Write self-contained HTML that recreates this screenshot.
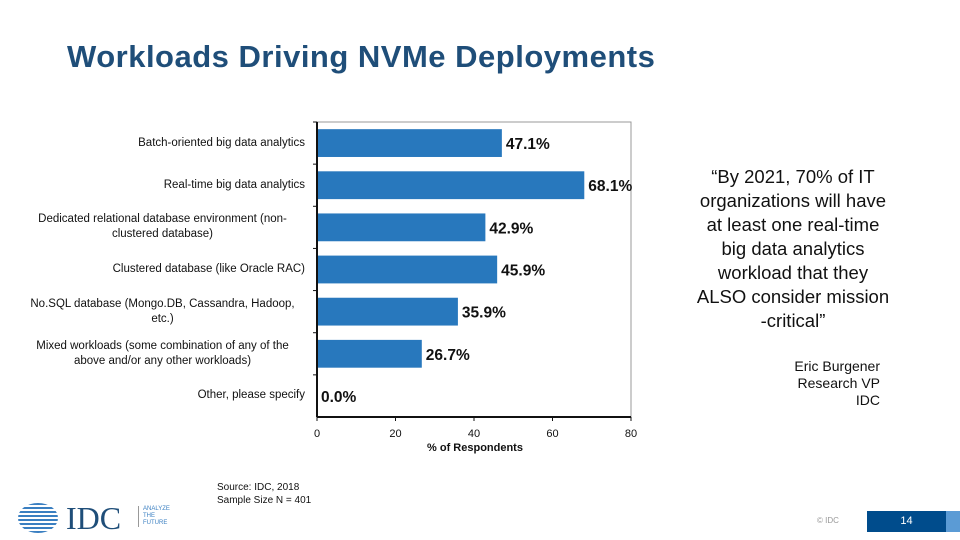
<!DOCTYPE html>
<html><head><meta charset="utf-8"><style>
body{margin:0;width:960px;height:540px;background:#fff;position:relative;overflow:hidden;font-family:"Liberation Sans",sans-serif}
.abs{position:absolute}
.lab{position:absolute;left:20px;width:285px;font-size:11.5px;color:#111;line-height:15px}
</style></head><body>
<div class="abs" style="left:67px;top:39px;font-size:31px;font-weight:bold;color:#1f4e79;letter-spacing:0.5px">Workloads Driving NVMe Deployments</div>
<svg class="abs" style="left:0;top:0" width="960" height="540" id="chart"></svg>
<div class="abs" style="left:660px;top:165px;width:266px;text-align:center;font-size:18.5px;line-height:24px;color:#111;white-space:nowrap">“By 2021, 70% of IT<br>organizations will have<br>at least one real-time<br>big data analytics<br>workload that they<br>ALSO consider mission<br>-critical”</div>
<div class="abs" style="left:740px;top:358px;width:140px;text-align:right;font-size:14px;line-height:17px;color:#111">Eric Burgener<br>Research VP<br>IDC</div>
<div class="abs" style="left:217px;top:481px;font-size:10px;line-height:13px;color:#111">Source: IDC, 2018<br>Sample Size N = 401</div>
<div class="abs" style="left:18px;top:503px;width:40px;height:30px;background:repeating-linear-gradient(#3a7fc1 0 2px,#fff 2px 4px);border-radius:50%"></div>
<div class="abs" style="left:66px;top:500px;font-family:'Liberation Serif',serif;font-size:32px;color:#1f4e79">IDC</div>
<div class="abs" style="left:138px;top:506px;font-size:6px;line-height:7px;color:#3a7fc1;border-left:1px solid #999;padding-left:4px">ANALYZE<br>THE<br>FUTURE</div>
<div class="abs" style="left:817px;top:516px;font-size:8px;color:#999">© IDC</div>
<div class="abs" style="left:867px;top:511px;width:79px;height:21px;background:#004c8c;color:#fff;font-size:11px;line-height:20px;text-align:center">14</div>
<div class="abs" style="left:946px;top:511px;width:14px;height:21px;background:#5b9bd5"></div>
<div id="labels"></div>
<script>
const categories=["Batch-oriented big data analytics","Real-time big data analytics","Dedicated relational database environment (non-clustered database)","Clustered database (like Oracle RAC)","No.SQL database (Mongo.DB, Cassandra, Hadoop, etc.)","Mixed workloads (some combination of any of the above and/or any other workloads)","Other, please specify"];
const values=[47.1,68.1,42.9,45.9,35.9,26.7,0.0];
const ticks=[0,20,40,60,80];
const svg=document.getElementById('chart');
const NS='http://www.w3.org/2000/svg';
const x0=317,x1=631,y0=122,y1=417,xmax=80;
const xs=v=>x0+(v/xmax)*(x1-x0);
const band=(y1-y0)/categories.length;
function mk(t,a){const e=document.createElementNS(NS,t);for(const k in a)e.setAttribute(k,a[k]);svg.appendChild(e);return e;}
let f=mk('polyline',{points:`${x0},${y0} ${x1},${y0} ${x1},${y1}`,fill:'none',stroke:'#999','stroke-width':1});

categories.forEach((c,i)=>{
  const yc=y0+band*(i+0.5),h=band*0.66;
  const r=mk('rect',{x:x0,y:yc-h/2,width:xs(values[i])-x0,height:h,fill:'#2878bd'});
  
  const t=mk('text',{x:xs(values[i])+4,y:yc+6,'font-size':15.5,'font-weight':'bold',fill:'#111','font-family':'Liberation Sans,sans-serif'});
  t.textContent=values[i].toFixed(1)+'%';
  
  const tk=mk('line',{x1:x0-4,x2:x0,y1:y0+band*i,y2:y0+band*i,stroke:'#111'});
  
  const d=document.createElement('div');d.className='lab';
  const multi=c.length>40;
  d.style.top=(yc-(multi?15:7.5))+'px';d.style.textAlign=multi?'center':'right';d.textContent=c;
  
  document.getElementById('labels').appendChild(d);
});
let ax=mk('line',{x1:x0,x2:x0,y1:y0,y2:y1,stroke:'#111','stroke-width':2});

let bx=mk('line',{x1:x0,x2:x1,y1:y1,y2:y1,stroke:'#111','stroke-width':2});

ticks.forEach(v=>{
  const l=mk('line',{x1:xs(v),x2:xs(v),y1:y1,y2:y1+4,stroke:'#111'});
  
  const t=mk('text',{x:xs(v),y:y1+20,'font-size':11,'text-anchor':'middle',fill:'#111','font-family':'Liberation Sans,sans-serif'});
  t.textContent=v;
});
const xt=mk('text',{x:475,y:451,'font-size':11,'font-weight':'bold','text-anchor':'middle',fill:'#111','font-family':'Liberation Sans,sans-serif'});
xt.textContent='% of Respondents';
</script>
</body></html>
